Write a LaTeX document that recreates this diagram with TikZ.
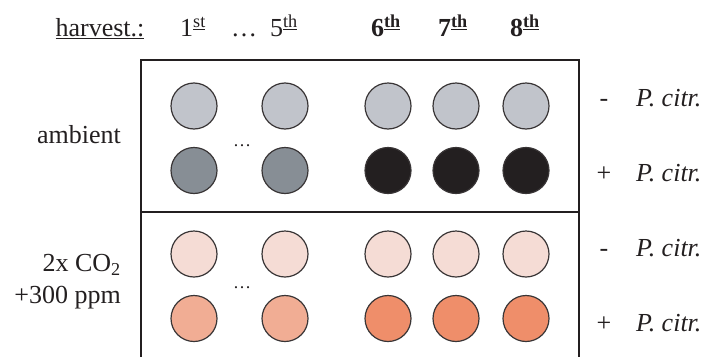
\documentclass[tikz,border=0pt]{standalone}
\usepackage{fontspec}
\setmainfont{Liberation Serif}
\definecolor{ink}{HTML}{231F20}
\definecolor{gLight}{HTML}{C1C4CB}
\definecolor{gDark}{HTML}{878E95}
\definecolor{gBlack}{HTML}{231F20}
\definecolor{pLight}{HTML}{F5DCD5}
\definecolor{pMid}{HTML}{F1AD94}
\definecolor{pStrong}{HTML}{EF8E6A}
\tikzset{
  well/.style={circle, draw=ink!90, line width=1.2pt, minimum size=46pt, inner sep=0pt},
  lbl/.style={inner sep=0pt, text=ink, font=\fontsize{26}{30}\selectfont},
  frame/.style={draw=ink, line width=2pt},
  dotsnode/.style={inner sep=0pt, text=ink, font=\fontsize{18}{20}\selectfont},
}
\newcommand{\supu}[1]{\textsuperscript{\underline{#1}}}
\begin{document}
\begin{tikzpicture}[x=1pt,y=-1pt]
\useasboundingbox (0,0) rectangle (708,356);
% frame
\coordinate (tl) at (141,60);
\coordinate (tr) at (579,60);
\coordinate (bl) at (141,357);
\coordinate (br) at (579,357);
\coordinate (ml) at (141,212);
\coordinate (mr) at (579,212);
\draw[frame] (bl) -- (tl) -- (tr) -- (br);
\draw[frame] (ml) -- (mr);
% header
\node[lbl, anchor=base] (hv) at (100,36.5) {\underline{harvest.:}};
\node[lbl, anchor=base] (h1) at (193,36.5) {1\supu{st}};
\node[lbl, anchor=base] (hd) at (244,36.5) {\dots};
\node[lbl, anchor=base] (h5) at (284,36.5) {5\supu{th}};
\node[lbl, anchor=base] (h6) at (386,36.5) {\bfseries 6\supu{th}};
\node[lbl, anchor=base] (h7) at (453,36.5) {\bfseries 7\supu{th}};
\node[lbl, anchor=base] (h8) at (525,36.5) {\bfseries 8\supu{th}};
% left labels
\node[lbl, anchor=base east] (amb) at (121,143) {ambient};
\node[lbl, anchor=base east] (co2) at (121,271.5) {2x CO\textsubscript{2}};
\node[lbl, anchor=base east] (ppm) at (121,303) {+300 ppm};
% wells ambient
\foreach \x/\n in {194/a,285/b,388/c,456/d,526/e} {
  \node[well, fill=gLight] (r1\n) at (\x,106) {};
}
\node[well, fill=gDark] (r2a) at (194,170.5) {};
\node[well, fill=gDark] (r2b) at (285,170.5) {};
\foreach \x/\n in {388/c,456/d,526/e} {
  \node[well, fill=gBlack] (r2\n) at (\x,170.5) {};
}
% wells CO2
\foreach \x/\n in {194/a,285/b,388/c,456/d,526/e} {
  \node[well, fill=pLight] (r3\n) at (\x,254) {};
}
\node[well, fill=pMid] (r4a) at (194,318.5) {};
\node[well, fill=pMid] (r4b) at (285,318.5) {};
\foreach \x/\n in {388/c,456/d,526/e} {
  \node[well, fill=pStrong] (r4\n) at (\x,318.5) {};
}
% dots between
\node[dotsnode] (d1) at (242,146) {\dots};
\node[dotsnode] (d2) at (242,288) {\dots};
% right labels
\foreach \y/\s/\n in {106/-/1,181/+/2,256/-/3,331/+/4} {
  \node[lbl, anchor=base] (s\n) at (604,\y) {\s};
  \node[lbl, anchor=base west] (p\n) at (636,\y) {\itshape P.\ citr.};
}
\end{tikzpicture}
\end{document}
